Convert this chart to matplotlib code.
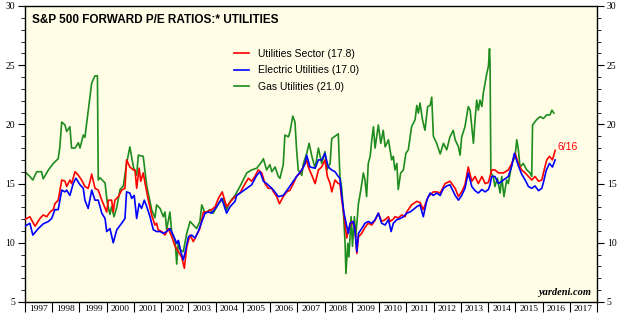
import matplotlib
matplotlib.use("Agg")
import numpy as np
import matplotlib.pyplot as plt
from matplotlib.ticker import MultipleLocator, FixedLocator, NullFormatter

# ---------------------------
# Data (decimal year, forward P/E)
# ---------------------------
util_t = [1997.00, 1997.18, 1997.37, 1997.55, 1997.67, 1997.80, 1997.92, 1998.04, 1998.10, 1998.22,
          1998.35, 1998.47, 1998.53, 1998.65, 1998.71, 1998.84, 1998.96, 1999.08, 1999.20, 1999.32,
          1999.39, 1999.45, 1999.57, 1999.69, 1999.82, 2000.00, 2000.06, 2000.18, 2000.24, 2000.30,
          2000.43, 2000.55, 2000.67, 2000.73, 2000.85, 2000.98, 2001.04, 2001.10, 2001.19, 2001.25,
          2001.34, 2001.41, 2001.53, 2001.65, 2001.77, 2001.83, 2001.89, 2002.02, 2002.14, 2002.26,
          2002.39, 2002.51, 2002.63, 2002.75, 2002.85, 2002.94, 2003.06, 2003.18, 2003.30, 2003.42,
          2003.55, 2003.67, 2003.85, 2003.98, 2004.10, 2004.24, 2004.40, 2004.59, 2004.71, 2004.89,
          2005.08, 2005.20, 2005.32, 2005.44, 2005.56, 2005.69, 2005.81, 2005.93, 2006.06, 2006.12,
          2006.24, 2006.34, 2006.48, 2006.61, 2006.73, 2006.85, 2006.97, 2007.10, 2007.22, 2007.34,
          2007.40, 2007.53, 2007.65, 2007.77, 2007.89, 2008.01, 2008.10, 2008.20, 2008.26, 2008.38,
          2008.50, 2008.56, 2008.63, 2008.71, 2008.81, 2008.87, 2008.99, 2009.11, 2009.18, 2009.24,
          2009.36, 2009.48, 2009.60, 2009.73, 2009.85, 2009.97, 2010.09, 2010.22, 2010.34, 2010.40,
          2010.52, 2010.58, 2010.70, 2010.83, 2010.95, 2011.01, 2011.19, 2011.38, 2011.50, 2011.62,
          2011.80, 2011.99, 2012.11, 2012.24, 2012.42, 2012.60, 2012.79, 2012.91, 2013.03, 2013.15,
          2013.27, 2013.40, 2013.52, 2013.64, 2013.77, 2013.89, 2014.01, 2014.13, 2014.25, 2014.38,
          2014.56, 2014.74, 2014.87, 2014.99, 2015.11, 2015.23, 2015.36, 2015.48, 2015.60, 2015.72,
          2015.85, 2015.97, 2016.03, 2016.15, 2016.25, 2016.36, 2016.46]
util_v = [11.97, 12.2, 11.4, 12.05, 12.35, 12.2, 12.6, 12.8, 13.3, 13.6,
          15.3, 15.2, 14.75, 15.3, 15.0, 16.0, 15.7, 15.3, 14.75, 14.6,
          15.2, 15.8, 14.6, 14.45, 13.6, 12.6, 13.6, 13.6, 12.6, 13.6,
          13.9, 14.45, 14.6, 17.0, 16.4, 16.15, 16.15, 14.6, 16.3, 15.2,
          15.9, 15.0, 13.6, 12.35, 11.5, 11.65, 11.1, 10.95, 10.65, 11.2,
          10.5, 9.7, 9.25, 8.8, 7.85, 9.7, 10.65, 10.1, 10.65, 11.2,
          12.6, 12.6, 12.8, 13.05, 13.75, 14.3, 13.05, 13.6, 13.9, 14.2,
          15.0, 15.45, 15.2, 15.6, 16.15, 15.9, 15.0, 14.6, 14.6, 14.3,
          13.9, 13.3, 13.9, 14.3, 14.45, 15.0, 15.6, 15.9, 16.4, 17.0,
          16.4, 15.7, 15.0, 16.15, 16.4, 17.0, 15.6, 15.0, 14.3, 15.3,
          15.0, 15.0, 13.6, 12.3, 10.4, 11.1, 11.8, 11.3, 9.1, 10.5,
          10.8, 11.3, 11.65, 11.5, 11.9, 12.5, 11.8, 11.95, 12.2, 11.8,
          12.0, 12.2, 12.1, 12.35, 12.2, 12.6, 13.2, 13.5, 13.4, 12.8,
          13.9, 14.3, 14.3, 14.2, 15.0, 15.2, 14.6, 13.9, 14.3, 14.9,
          16.4, 15.2, 15.6, 15.0, 15.6, 15.0, 15.1, 16.15, 16.15, 15.9,
          15.9, 16.15, 16.7, 17.55, 16.7, 16.15, 15.9, 15.6, 15.3, 15.6,
          15.2, 15.3, 15.9, 17.0, 17.3, 17.0, 17.8]

elec_t = [1997.00, 1997.18, 1997.29, 1997.49, 1997.67, 1997.86, 1997.98, 1998.10, 1998.22, 1998.35,
          1998.47, 1998.53, 1998.65, 1998.77, 1998.87, 1999.02, 1999.14, 1999.20, 1999.32, 1999.45,
          1999.57, 1999.69, 1999.82, 1999.94, 2000.00, 2000.12, 2000.24, 2000.37, 2000.55, 2000.67,
          2000.73, 2000.85, 2000.92, 2001.01, 2001.10, 2001.19, 2001.28, 2001.38, 2001.47, 2001.59,
          2001.71, 2001.83, 2001.96, 2002.08, 2002.20, 2002.32, 2002.44, 2002.57, 2002.63, 2002.72,
          2002.81, 2002.90, 2003.00, 2003.12, 2003.24, 2003.36, 2003.51, 2003.61, 2003.73, 2003.85,
          2004.04, 2004.22, 2004.40, 2004.53, 2004.71, 2004.77, 2004.96, 2005.14, 2005.32, 2005.51,
          2005.63, 2005.75, 2005.87, 2005.99, 2006.12, 2006.30, 2006.48, 2006.67, 2006.85, 2006.97,
          2007.16, 2007.28, 2007.34, 2007.46, 2007.65, 2007.77, 2007.89, 2008.01, 2008.13, 2008.26,
          2008.38, 2008.50, 2008.56, 2008.63, 2008.71, 2008.81, 2008.87, 2008.93, 2009.05, 2009.11,
          2009.18, 2009.24, 2009.36, 2009.48, 2009.60, 2009.73, 2009.85, 2009.97, 2010.09, 2010.22,
          2010.34, 2010.44, 2010.52, 2010.65, 2010.77, 2010.89, 2011.01, 2011.13, 2011.25, 2011.38,
          2011.50, 2011.62, 2011.75, 2011.87, 2011.99, 2012.11, 2012.24, 2012.36, 2012.48, 2012.60,
          2012.79, 2012.91, 2013.03, 2013.15, 2013.27, 2013.40, 2013.52, 2013.64, 2013.77, 2013.89,
          2014.01, 2014.07, 2014.13, 2014.25, 2014.38, 2014.56, 2014.74, 2014.87, 2014.96, 2015.11,
          2015.23, 2015.36, 2015.48, 2015.60, 2015.72, 2015.85, 2015.97, 2016.03, 2016.13, 2016.25,
          2016.36, 2016.46]
elec_v = [11.4, 11.65, 10.65, 11.2, 11.6, 11.8, 12.05, 12.8, 12.8, 14.45,
          14.3, 14.45, 14.0, 15.0, 15.45, 14.9, 14.6, 13.6, 12.9, 14.45,
          13.6, 13.6, 12.5, 12.05, 10.95, 11.2, 10.0, 11.1, 11.65, 12.05,
          14.3, 14.2, 13.75, 14.0, 12.05, 13.3, 12.9, 13.6, 13.05, 12.2,
          11.1, 10.95, 10.95, 10.8, 10.95, 11.2, 10.65, 9.95, 10.2, 9.25,
          8.55, 9.4, 10.5, 10.65, 10.4, 10.95, 11.9, 12.5, 12.6, 12.5,
          13.05, 13.75, 12.5, 13.05, 13.5, 14.0, 14.3, 14.6, 14.9, 15.7,
          16.0, 15.2, 15.0, 14.75, 14.45, 13.9, 14.0, 14.6, 15.2, 15.6,
          16.15, 16.7, 17.4, 16.4, 16.3, 17.0, 17.0, 17.55, 16.4, 16.15,
          16.0, 15.6, 15.45, 13.9, 12.5, 11.4, 10.8, 11.65, 11.8, 11.1,
          9.25, 10.8, 11.2, 11.65, 11.8, 11.65, 11.95, 12.5, 11.65, 11.5,
          11.95, 10.95, 11.65, 11.95, 12.05, 12.2, 12.5, 12.6, 12.8, 13.05,
          13.2, 12.2, 13.6, 14.2, 14.0, 14.2, 14.0, 14.6, 14.8, 14.9,
          14.0, 13.6, 14.0, 14.6, 15.9, 14.75, 14.4, 14.2, 14.5, 14.3,
          14.5, 14.9, 15.6, 15.6, 15.0, 15.3, 15.6, 16.5, 17.55, 16.5,
          15.8, 15.3, 14.75, 14.6, 14.8, 14.4, 14.6, 15.1, 16.1, 16.7,
          16.4, 17.0]

gas_t = [1997.00, 1997.18, 1997.29, 1997.43, 1997.61, 1997.67, 1997.86, 1998.04, 1998.22, 1998.28,
         1998.35, 1998.47, 1998.53, 1998.65, 1998.71, 1998.84, 1998.96, 1999.02, 1999.14, 1999.20,
         1999.32, 1999.45, 1999.57, 1999.66, 1999.69, 1999.75, 1999.94, 2000.02, 2000.12, 2000.18,
         2000.27, 2000.37, 2000.49, 2000.61, 2000.73, 2000.85, 2000.98, 2001.10, 2001.16, 2001.34,
         2001.47, 2001.65, 2001.77, 2001.83, 2001.96, 2002.08, 2002.14, 2002.20, 2002.32, 2002.39,
         2002.51, 2002.57, 2002.63, 2002.69, 2002.81, 2002.94, 2003.06, 2003.18, 2003.30, 2003.42,
         2003.49, 2003.61, 2003.79, 2003.91, 2004.10, 2004.28, 2004.40, 2004.53, 2004.71, 2004.89,
         2005.14, 2005.32, 2005.51, 2005.69, 2005.75, 2005.87, 2005.99, 2006.06, 2006.18, 2006.30,
         2006.36, 2006.48, 2006.54, 2006.67, 2006.73, 2006.83, 2006.91, 2006.97, 2007.03, 2007.16,
         2007.22, 2007.34, 2007.43, 2007.53, 2007.65, 2007.77, 2007.89, 2008.01, 2008.08, 2008.20,
         2008.26, 2008.38, 2008.50, 2008.56, 2008.63, 2008.69, 2008.75, 2008.78, 2008.85, 2008.89,
         2008.97, 2009.02, 2009.09, 2009.14, 2009.24, 2009.33, 2009.42, 2009.48, 2009.54, 2009.60,
         2009.67, 2009.73, 2009.79, 2009.85, 2009.97, 2010.06, 2010.15, 2010.22, 2010.34, 2010.46,
         2010.52, 2010.58, 2010.65, 2010.70, 2010.79, 2010.89, 2010.98, 2011.07, 2011.19, 2011.32,
         2011.38, 2011.44, 2011.50, 2011.59, 2011.68, 2011.78, 2011.87, 2011.93, 2011.99, 2012.11,
         2012.24, 2012.36, 2012.48, 2012.60, 2012.72, 2012.79, 2012.91, 2012.97, 2013.03, 2013.15,
         2013.27, 2013.34, 2013.40, 2013.46, 2013.52, 2013.58, 2013.64, 2013.70, 2013.77, 2013.82,
         2013.89, 2013.95, 2014.01, 2014.05, 2014.07, 2014.10, 2014.19, 2014.25, 2014.34, 2014.44,
         2014.50, 2014.58, 2014.68, 2014.74, 2014.87, 2014.99, 2015.05, 2015.11, 2015.17, 2015.29,
         2015.42, 2015.54, 2015.60, 2015.63, 2015.78, 2015.91, 2016.03, 2016.15, 2016.27, 2016.34,
         2016.41]
gas_v = [16.0, 15.6, 15.3, 16.0, 16.0, 15.4, 16.15, 16.7, 17.1, 18.1,
         20.2, 19.95, 19.4, 19.8, 18.0, 18.0, 18.45, 18.0, 19.1, 18.9,
         21.1, 23.5, 24.1, 24.1, 15.3, 15.5, 15.05, 13.4, 12.4, 13.05,
         12.2, 13.0, 14.5, 14.8, 16.7, 18.1, 16.4, 15.7, 17.4, 17.3,
         14.8, 12.8, 12.1, 13.2, 12.9, 12.2, 12.6, 11.1, 12.6, 10.8,
         10.2, 8.2, 10.1, 9.4, 9.25, 10.8, 11.8, 11.5, 11.2, 11.8,
         13.2, 12.5, 12.8, 12.5, 13.3, 13.75, 12.8, 13.5, 14.0, 14.75,
         15.9, 16.15, 16.3, 16.85, 17.1, 16.15, 16.6, 16.0, 16.4, 15.6,
         15.45, 16.6, 19.1, 18.95, 19.4, 20.7, 20.2, 17.85, 16.15, 15.7,
         16.7, 17.55, 18.4, 17.3, 16.3, 18.0, 16.7, 17.7, 16.15, 16.7,
         18.8, 19.0, 19.2, 15.6, 14.5, 12.5, 9.95, 7.4, 9.95, 8.8,
         12.2, 9.7, 12.2, 10.5, 13.3, 14.5, 15.9, 15.3, 13.9, 16.7,
         17.3, 18.7, 19.8, 18.0, 19.95, 18.4, 19.5, 18.1, 18.7, 17.0,
         17.3, 16.15, 16.7, 14.5, 15.9, 16.15, 17.55, 17.85, 19.8, 20.4,
         21.6, 20.95, 21.8, 20.4, 19.5, 21.5, 21.6, 22.3, 19.0, 18.4,
         17.5, 18.4, 17.85, 18.95, 19.5, 18.7, 18.1, 17.4, 18.95, 19.8,
         21.5, 21.2, 19.8, 18.4, 20.4, 22.05, 21.2, 22.05, 21.5, 22.6,
         23.5, 24.3, 24.9, 26.4, 25.2, 15.9, 15.6, 14.75, 15.45, 14.2,
         15.6, 13.9, 15.3, 15.0, 16.7, 17.3, 18.7, 17.85, 16.4, 16.7,
         16.15, 15.9, 15.6, 19.95, 20.4, 20.65, 20.5, 20.8, 20.8, 21.2,
         20.95]

labels = ["Utilities Sector (17.8)", "Electric Utilities (17.0)", "Gas Utilities (21.0)"]
years = list(range(1997, 2018))

# ---------------------------
# Figure
# ---------------------------
fig = plt.figure(figsize=(6.4, 3.24), dpi=100)
ax = fig.add_axes([0.039, 0.068, 0.894, 0.9135])
ax.set_facecolor("#FFFDE6")

ax.plot(util_t, util_v, color="#FF0000", lw=1.2, label=labels[0], zorder=3)
ax.plot(elec_t, elec_v, color="#0000FF", lw=1.2, label=labels[1], zorder=4)
ax.plot(gas_t, gas_v, color="#1E8C1E", lw=1.2, label=labels[2], zorder=2)

ax.set_xlim(1997, 2018)
ax.set_ylim(5, 30)

# y axis: labels both sides, serif
ax.yaxis.set_major_locator(MultipleLocator(5))
ax.yaxis.set_minor_locator(MultipleLocator(1))
ax.tick_params(axis="y", which="both", left=True, right=True, labelleft=True,
               labelright=True, direction="out", labelsize=7, pad=2)
ax.tick_params(axis="y", which="major", length=5, width=0.8)
ax.tick_params(axis="y", which="minor", length=3, width=0.6)

# x axis: ticks at year boundaries, labels centred in each year
ax.xaxis.set_major_locator(FixedLocator(years + [2018]))
ax.xaxis.set_major_formatter(NullFormatter())
ax.xaxis.set_minor_locator(FixedLocator([y + 0.5 for y in years]))
ax.set_xticklabels([str(y) for y in years], minor=True)
ax.tick_params(axis="x", which="major", direction="out", length=7, width=0.8)
ax.tick_params(axis="x", which="minor", length=0, labelsize=6.8, pad=2)

for lab in ax.get_xticklabels(minor=True):
    lab.set_family("Liberation Serif")
for lab in ax.yaxis.get_ticklabels(which="both"):
    lab.set_family("Liberation Serif")

for s in ax.spines.values():
    s.set_linewidth(1.0)

ax.text(0.012, 0.972, "S&P 500 FORWARD P/E RATIOS:* UTILITIES", transform=ax.transAxes,
        ha="left", va="top", fontsize=8.5, fontweight="bold", family="Liberation Sans")

leg = ax.legend(loc="upper left", bbox_to_anchor=(0.349, 0.888), frameon=False,
                prop={"family": "Liberation Sans", "size": 7.5},
                handlelength=1.4, handletextpad=0.95, labelspacing=0.65)

ax.text(util_t[-1] + 0.08, util_v[-1] + 0.3, "6/16", color="#FF0000", fontsize=7.5,
        family="Liberation Sans", ha="left", va="center")

ax.text(0.99, 0.018, "yardeni.com", transform=ax.transAxes, ha="right", va="bottom",
        fontsize=7.5, fontweight="bold", style="italic", family="Liberation Serif")

fig.savefig("out.png", dpi=100)
